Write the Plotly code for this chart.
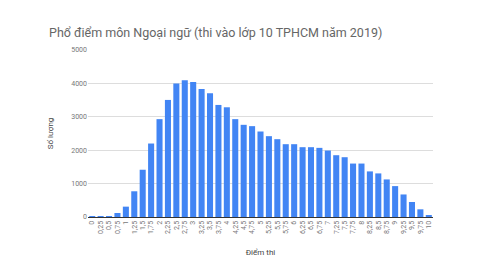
import plotly.graph_objects as go

scores = ["0", "0,25", "0,5", "0,75", "1", "1,25", "1,5", "1,75", "2", "2,25", "2,5", "2,75",
          "3", "3,25", "3,5", "3,75", "4", "4,25", "4,5", "4,75", "5", "5,25", "5,5", "5,75",
          "6", "6,25", "6,5", "6,75", "7", "7,25", "7,5", "7,75", "8", "8,25", "8,5", "8,75",
          "9", "9,25", "9,5", "9,75", "10"]
counts = [20, 5, 10, 120, 310, 770, 1415, 2200, 2930, 3505, 3995, 4095,
          4045, 3835, 3705, 3355, 3285, 2930, 2760, 2720, 2560, 2420, 2330, 2180,
          2180, 2090, 2090, 2070, 1990, 1850, 1790, 1600, 1600, 1365, 1305, 1125,
          925, 675, 450, 230, 50]
y_ticks = [0, 1000, 2000, 3000, 4000, 5000]

fig = go.Figure(go.Bar(x=scores, y=counts, marker_color="#4285F4", marker_line_width=0))

fig.update_layout(
    width=490, height=276,
    margin=dict(l=88, r=57, t=50, b=59),
    paper_bgcolor="white", plot_bgcolor="white",
    font=dict(family="Roboto, Arial, sans-serif", color="#444"),
    bargap=0.28,
    showlegend=False,
    title=dict(text="Phổ điểm môn Ngoại ngữ (thi vào lớp 10 TPHCM năm 2019)",
               x=49/490, xanchor="left", y=1-33/276, yanchor="middle",
               font=dict(size=12.5, color="#666")),
    xaxis=dict(type="category", tickangle=-90, tickmode="array", tickvals=scores, ticktext=scores,
               tickfont=dict(size=7, color="#777"),
               showgrid=False, showline=True, linecolor="#333", linewidth=1,
               ticks="", ticklen=0,
               title=dict(text="Điểm thi", font=dict(size=8, color="#444"), standoff=16)),
    yaxis=dict(range=[0, 5000], tickvals=y_ticks, ticktext=[str(v) for v in y_ticks],
               tickfont=dict(size=7, color="#777"), gridcolor="#ddd", gridwidth=1,
               zeroline=False, showline=False, ticks="", ticklen=0,
               title=dict(text="Số lượng", font=dict(size=8, color="#444"), standoff=16)),
)

fig.write_html("out.html")
